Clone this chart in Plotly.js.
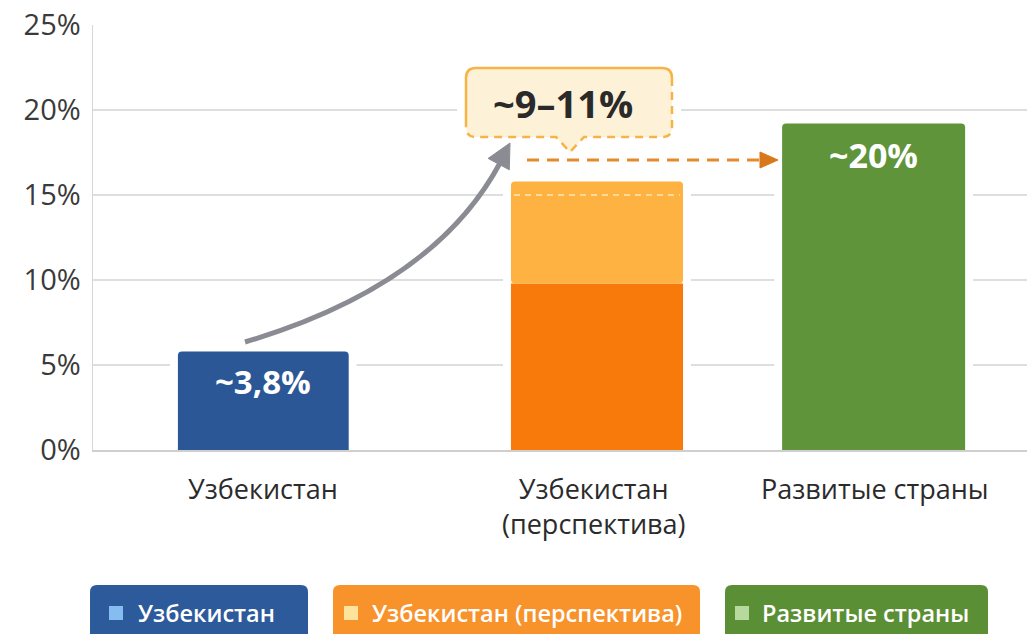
<!DOCTYPE html>
<html><head><meta charset="utf-8">
<script src="https://cdn.plot.ly/plotly-3.0.1.min.js"></script>
<style>html,body{margin:0;padding:0;background:#fff;}#chart{width:1027px;height:634px;}</style>
</head><body><div id="chart"></div>
<script>
// ---- data ----
const categories = ['Узбекистан', 'Узбекистан (перспектива)', 'Развитые страны'];
const categoryLabels = ['Узбекистан', 'Узбекистан<br>(перспектива)', 'Развитые страны'];
const barValues = [5.8, 9.8, 19.2];          // blue, dark orange (base part), green
const perspectiveUpper = [15.8];             // top of light orange segment
const perspectiveMarker = [15];              // dashed white line inside orange bar
const valueLabels = ['~3,8%', '~9–11%', '~20%'];
const legendLabels = ['Узбекистан', 'Узбекистан (перспектива)', 'Развитые страны'];
const yTickValues = [0, 5, 10, 15, 20, 25];
const yTickLabels = ['0%', '5%', '10%', '15%', '20%', '25%'];

// ---- geometry / style ----
const L = 93, R = 1027, T = 25, B = 450;
const X0 = -0.5574, X1 = 2.5049;
const barWidth = [0.56, 0.564, 0.6];
const barOffset = [-0.279, -0.187, -0.298];
const halo = 0.026;
const FONT = 'Open Sans, Noto Sans, sans-serif';
const colors = {blue:'#2b5797', dark:'#f77a0a', light:'#fdb241', green:'#5f943a'};

function px(x){return (x - L) / (R - L);}
function py(y){return (B - y) / (B - T);}
function P(x, y){return px(x).toFixed(5) + ',' + py(y).toFixed(5);}
function rrect(x0, y0, x1, y1, r){
  return `M ${P(x0+r,y0)} L ${P(x1-r,y0)} Q ${P(x1,y0)} ${P(x1,y0+r)} L ${P(x1,y1-r)} Q ${P(x1,y1)} ${P(x1-r,y1)} L ${P(x0+r,y1)} Q ${P(x0,y1)} ${P(x0,y1-r)} L ${P(x0,y0+r)} Q ${P(x0,y0)} ${P(x0+r,y0)} Z`;
}

const traces = [
  { type:'bar', x: categories, y: [barValues[0], perspectiveUpper[0], barValues[2]],
    width: barWidth.map(w => w + 2*halo), offset: barOffset.map(o => o - halo),
    marker:{color:'#ffffff', line:{width:0}}, hoverinfo:'skip' },
  { type:'bar', x:[categories[0]], y:[barValues[0]], width:[barWidth[0]], offset:[barOffset[0]],
    marker:{color:colors.blue, cornerradius:4, line:{width:0}} },
  { type:'bar', x:[categories[1]], y:[barValues[1]], width:[barWidth[1]], offset:[barOffset[1]],
    marker:{color:colors.dark, line:{width:0}} },
  { type:'bar', x:[categories[1]], y:[perspectiveUpper[0] - barValues[1]], base:[barValues[1]],
    width:[barWidth[1]], offset:[barOffset[1]],
    marker:{color:colors.light, cornerradius:4, line:{width:0}} },
  { type:'bar', x:[categories[2]], y:[barValues[2]], width:[barWidth[2]], offset:[barOffset[2]],
    marker:{color:colors.green, cornerradius:4, line:{width:0}} }
];

// callout box geometry
const cb = {x0:466, y0:68, x1:672, y1:137, r:10};
const calloutFill = `M ${P(cb.x0+cb.r,cb.y0)} L ${P(cb.x1-cb.r,cb.y0)} Q ${P(cb.x1,cb.y0)} ${P(cb.x1,cb.y0+cb.r)} L ${P(cb.x1,cb.y1-cb.r)} Q ${P(cb.x1,cb.y1)} ${P(cb.x1-cb.r,cb.y1)} L ${P(584,cb.y1)} L ${P(570,152)} L ${P(556,cb.y1)} L ${P(cb.x0+cb.r,cb.y1)} Q ${P(cb.x0,cb.y1)} ${P(cb.x0,cb.y1-cb.r)} L ${P(cb.x0,cb.y0+cb.r)} Q ${P(cb.x0,cb.y0)} ${P(cb.x0+cb.r,cb.y0)} Z`;
const calloutSolid = `M ${P(cb.x0,cb.y1-cb.r)} L ${P(cb.x0,cb.y0+cb.r)} Q ${P(cb.x0,cb.y0)} ${P(cb.x0+cb.r,cb.y0)} L ${P(cb.x1-cb.r,cb.y0)} Q ${P(cb.x1,cb.y0)} ${P(cb.x1,cb.y0+cb.r)}`;
const calloutDashed = `M ${P(cb.x1,cb.y0+cb.r)} L ${P(cb.x1,cb.y1-cb.r)} Q ${P(cb.x1,cb.y1)} ${P(cb.x1-cb.r,cb.y1)} L ${P(584,cb.y1)} L ${P(570,152)} L ${P(556,cb.y1)} L ${P(cb.x0+cb.r,cb.y1)} Q ${P(cb.x0,cb.y1)} ${P(cb.x0,cb.y1-cb.r)}`;

const shapes = [
  { type:'line', xref:'x', yref:'y', layer:'above',
    x0: 1 + barOffset[1] + 0.01, x1: 1 + barOffset[1] + barWidth[1] - 0.01,
    y0: perspectiveMarker[0], y1: perspectiveMarker[0],
    line:{color:'rgba(255,236,190,0.95)', width:1.5, dash:'6px,5px'} },
  { type:'path', xref:'paper', yref:'paper', layer:'above', path: rrect(457, 60, 681, 146, 12),
    fillcolor:'#ffffff', line:{width:0} },
  { type:'path', xref:'paper', yref:'paper', layer:'above', path: calloutFill,
    fillcolor:'#fdf1d8', line:{width:0} },
  { type:'path', xref:'paper', yref:'paper', layer:'above', path: calloutSolid,
    line:{color:'#f5b445', width:2.5} },
  { type:'path', xref:'paper', yref:'paper', layer:'above', path: calloutDashed,
    line:{color:'#f5b445', width:2.5, dash:'8px,6px'} },
  { type:'path', xref:'paper', yref:'paper', layer:'above',
    path: `M ${P(245,342)} Q ${P(434,286)} ${P(500,163)}`,
    line:{color:'#8b8b93', width:5} },
  { type:'path', xref:'paper', yref:'paper', layer:'above',
    path: `M ${P(510,143)} L ${P(509.3,169.8)} L ${P(488.1,158.4)} Z`,
    fillcolor:'#8b8b93', line:{color:'#8b8b93', width:1} },
  { type:'line', xref:'paper', yref:'paper', layer:'above',
    x0: px(527), x1: px(762), y0: py(160), y1: py(160),
    line:{color:'#e38b2c', width:3, dash:'12px,8px'} },
  { type:'path', xref:'paper', yref:'paper', layer:'above',
    path: `M ${P(778,160)} L ${P(760,152)} L ${P(760,168)} Z`,
    fillcolor:'#d9781a', line:{color:'#d9781a', width:1} },
  { type:'path', xref:'paper', yref:'paper', layer:'above', path: rrect(90, 585, 308, 645, 7),
    fillcolor:'#2d5a9b', line:{width:0} },
  { type:'path', xref:'paper', yref:'paper', layer:'above', path: rrect(333, 585, 700, 645, 7),
    fillcolor:'#f8922b', line:{width:0} },
  { type:'path', xref:'paper', yref:'paper', layer:'above', path: rrect(725, 585, 988, 645, 7),
    fillcolor:'#5b8f35', line:{width:0} },
  { type:'rect', xref:'paper', yref:'paper', layer:'above',
    x0: px(109), x1: px(123), y0: py(606), y1: py(620), fillcolor:'#86bdf0', line:{width:0} },
  { type:'rect', xref:'paper', yref:'paper', layer:'above',
    x0: px(344), x1: px(358), y0: py(606), y1: py(620), fillcolor:'#fde39c', line:{width:0} },
  { type:'rect', xref:'paper', yref:'paper', layer:'above',
    x0: px(735), x1: px(749), y0: py(606), y1: py(620), fillcolor:'#b8d99e', line:{width:0} }
];

const annotations = [
  { xref:'x', yref:'y', x:0, y:barValues[0], yanchor:'top', yshift:-6, showarrow:false,
    text: valueLabels[0], font:{family:FONT, size:33, color:'#ffffff', weight:700} },
  { xref:'x', yref:'y', x:2, y:barValues[2], yanchor:'top', yshift:-6, showarrow:false,
    text: valueLabels[2], font:{family:FONT, size:34, color:'#ffffff', weight:700} },
  { xref:'paper', yref:'paper', x:px(563), y:py(103), xanchor:'center', yanchor:'middle', showarrow:false,
    text: valueLabels[1], font:{family:FONT, size:38, color:'#2a2a2a', weight:700} },
  { xref:'x', yref:'paper', x:0, xshift:0, y:py(488), yanchor:'middle', showarrow:false,
    text: categoryLabels[0], font:{family:FONT, size:27, color:'#2b2b2b'} },
  { xref:'x', yref:'paper', x:1, xshift:26, y:py(506), yanchor:'middle', showarrow:false,
    text: categoryLabels[1], font:{family:FONT, size:27, color:'#2b2b2b'} },
  { xref:'x', yref:'paper', x:2, xshift:2, y:py(488), yanchor:'middle', showarrow:false,
    text: categoryLabels[2], font:{family:FONT, size:27, color:'#2b2b2b'} },
  { xref:'paper', yref:'paper', x:px(136), y:py(613), xanchor:'left', yanchor:'middle', showarrow:false,
    text: legendLabels[0], font:{family:FONT, size:23.5, color:'#ffffff', weight:600} },
  { xref:'paper', yref:'paper', x:px(370), y:py(613), xanchor:'left', yanchor:'middle', showarrow:false,
    text: legendLabels[1], font:{family:FONT, size:23.5, color:'#ffffff', weight:600} },
  { xref:'paper', yref:'paper', x:px(760), y:py(613), xanchor:'left', yanchor:'middle', showarrow:false,
    text: legendLabels[2], font:{family:FONT, size:23.5, color:'#ffffff', weight:600} }
];

const layout = {
  width:1027, height:634,
  margin:{l:L, r:1027-R, t:T, b:634-B, pad:0},
  paper_bgcolor:'#ffffff', plot_bgcolor:'#ffffff',
  barmode:'overlay', showlegend:false,
  font:{family:FONT},
  xaxis:{type:'category', range:[X0, X1], showticklabels:false, showgrid:false, zeroline:false,
         showline:true, linecolor:'#cfcfcf', linewidth:2, ticks:'', fixedrange:true},
  yaxis:{range:[0, 25], tickvals:yTickValues, ticktext:yTickLabels, showgrid:true,
         gridcolor:'#dedede', gridwidth:1.5, zeroline:false, showline:true, linecolor:'#d6d6d6',
         linewidth:1.5, ticks:'', ticklabelstandoff:5,
         tickfont:{family:FONT, size:29, color:'#3a3a3a'}, fixedrange:true},
  shapes: shapes,
  annotations: annotations
};

Plotly.newPlot('chart', traces, layout, {displayModeBar:false, staticPlot:true});
</script>
</body></html>
